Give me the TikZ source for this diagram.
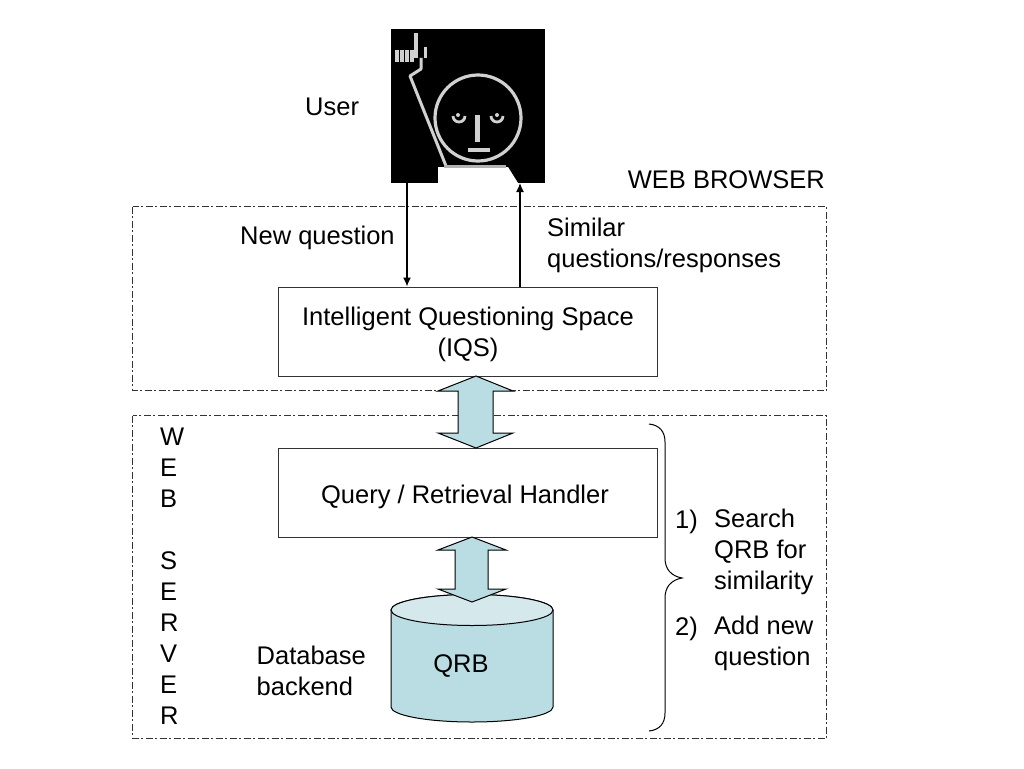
\documentclass[tikz,border=0pt]{standalone}
\usepackage{fontspec}
\setmainfont{Liberation Sans}
\usetikzlibrary{arrows.meta}
\definecolor{qfill}{HTML}{B9DDE3}
\definecolor{qtop}{HTML}{D5E9ED}
\definecolor{edge}{HTML}{333333}
\tikzset{
  lab/.style={inner sep=0pt,font=\fontsize{25.5}{31}\selectfont,text=black,align=left},
  labc/.style={lab,align=center},
  procbox/.style={draw=edge,line width=1.1pt,fill=white,inner sep=0pt},
  zone/.style={draw=edge,line width=1pt,dash pattern=on 7pt off 2.5pt on 2pt off 2.5pt},
  flow/.style={draw=black,line width=1.3pt,-{Latex[length=9pt,width=8pt]}},
  dbl/.style={draw=black,line width=1pt,fill=qfill,line join=miter},
  face/.style={draw=white!82!black,line width=3.2pt},
}
\begin{document}
\begin{tikzpicture}[x=1pt,y=-1pt]
\useasboundingbox (0,0) rectangle (1024,768);
\fill[white] (0,0) rectangle (1024,768);
% zones
\draw[zone] (132.5,206.5) rectangle (826.5,390.5);
\draw[zone] (132.5,415.5) rectangle (826.5,738.5);
% user picture
\fill[black] (391,29) rectangle (545,183);
\draw[face] (478,118) circle (43);
\draw[face,line width=3pt,line join=round] (446,166) -- (410,76) -- (421,69) -- (421,58);
\draw[face,line width=4.5pt] (416,33) -- (416,58);
\draw[face,line width=12pt,dash pattern=on 3.6pt off 1.4pt] (395,56) -- (414,56);
\draw[face,line width=3pt] (425,47) -- (425,58);
\draw[face,line width=2.8pt] (459,116) ++(-6,0) arc (180:0:6);
\draw[face,line width=2.8pt] (497,116) ++(-6,0) arc (180:0:6);
\fill[white!82!black] (458,115) circle (2);
\fill[white!82!black] (497,115) circle (2);
\draw[face,line width=5pt] (477,115) -- (477,142);
\draw[face,line width=4pt] (468,150) -- (490,150);
\fill[white] (438,167) -- (508,167) -- (518,183) -- (438,183) -- cycle;
\draw[white!70!black,line width=3pt] (444,166) -- (506,166);
% boxes
\node[procbox,minimum width=379pt,minimum height=89pt,anchor=north west] (iqs) at (278,286.5) {};
\node[labc,anchor=center] (iqstext) at (468,334) {Intelligent Questioning Space\\(IQS)};
\node[procbox,minimum width=379pt,minimum height=89pt,anchor=north west] (qrh) at (278,448) {};
\node[lab,anchor=center] (qrhtext) at (465,496.5) {Query / Retrieval Handler};
% cylinder
\path[fill=qfill,draw=black,line width=1pt] (391,610) -- (391,707) arc[start angle=180,end angle=0,x radius=81,y radius=15] -- (553,610) arc[start angle=0,end angle=-180,x radius=81,y radius=15.5] -- cycle;
\path[fill=qtop,draw=black,line width=1pt] (472,610) ellipse (81 and 15.5);
\node[lab,anchor=center] (qrb) at (461,666) {QRB};
% double arrows
\path[dbl] (476,376) -- (513,391) -- (493,391) -- (493,433) -- (513,433) -- (476,448) -- (438,433) -- (458,433) -- (458,391) -- (438,391) -- cycle;
\path[dbl] (472,537) -- (506,550) -- (488,550) -- (488,589) -- (506,589) -- (472,602) -- (438,589) -- (455,589) -- (455,550) -- (438,550) -- cycle;
% user connectors
\coordinate (uin) at (407,183);
\coordinate (uout) at (520,183);
\draw[flow] (uin) -- (uin |- iqs.north);
\draw[flow] (uout |- iqs.north) -- (uout);
% brace
\draw[black,line width=1pt] (649,424) .. controls (659,425) and (665,431) .. (665,442) -- (665,558) .. controls (665,569) and (671,576) .. (682,578) .. controls (671,580) and (665,587) .. (665,598) -- (665,713) .. controls (665,724) and (659,730) .. (649,731);
% labels
\node[lab,anchor=west] (user) at (305,107) {User};
\node[lab,anchor=east] (webb) at (825,180) {WEB BROWSER};
\node[lab,anchor=west] (newq) at (240,238) {New question};
\node[lab,anchor=north west] (simq) at (547,218) {Similar\\questions/responses};
\node[lab,anchor=north west] (websrv) at (160,427.5) {W\\E\\B\\ \\S\\E\\R\\V\\E\\R};
\node[lab,anchor=north west] (dbb) at (256.5,646) {Database\\backend};
\node[lab,anchor=west] (n1) at (675,522) {1)};
\node[lab,anchor=north west] (s1) at (714,509) {Search\\QRB for\\similarity};
\node[lab,anchor=west] (n2) at (675,629) {2)};
\node[lab,anchor=north west] (s2) at (714,616) {Add new\\question};
\end{tikzpicture}
\end{document}
